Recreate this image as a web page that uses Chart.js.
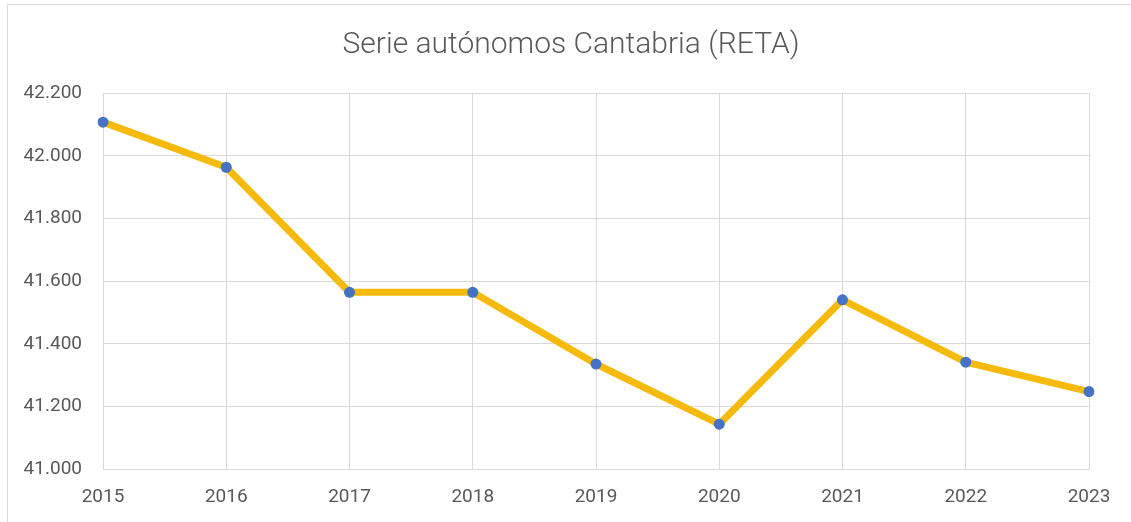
<!DOCTYPE html>
<html>
<head>
<meta charset="utf-8">
<script src="https://cdn.jsdelivr.net/npm/chart.js@4.4.1/dist/chart.umd.min.js"></script>
<style>
  html, body { margin: 0; padding: 0; background: #fff; }
  #wrap { position: relative; width: 1131px; height: 522px; }
</style>
</head>
<body>
<div id="wrap"><canvas id="c" width="1131" height="522"></canvas></div>
<script>
const titleText = 'Serie autónomos Cantabria (RETA)';
const years = ['2015', '2016', '2017', '2018', '2019', '2020', '2021', '2022', '2023'];
const autonomos = [42108, 41964, 41565, 41565, 41336, 41144, 41541, 41342, 41248];
const yTickValues = [41000, 41200, 41400, 41600, 41800, 42000, 42200];
const yTickLabels = ['41.000', '41.200', '41.400', '41.600', '41.800', '42.000', '42.200'];

const textColor = '#595959';
const gridColor = '#D9D9D9';
const fontFamily = 'Roboto, "Open Sans", "Liberation Sans", sans-serif';

const frame = {
  id: 'frame',
  beforeDraw(chart) {
    const ctx = chart.ctx;
    ctx.save();
    ctx.fillStyle = '#ffffff';
    ctx.fillRect(0, 0, chart.width, chart.height);
    ctx.strokeStyle = '#D9D9D9';
    ctx.lineWidth = 1;
    ctx.beginPath();
    ctx.moveTo(7.5, chart.height);
    ctx.lineTo(7.5, 4.5);
    ctx.lineTo(chart.width, 4.5);
    ctx.stroke();
    ctx.restore();
  }
};

new Chart(document.getElementById('c'), {
  type: 'line',
  data: {
    labels: years,
    datasets: [{
      label: 'Autónomos',
      data: autonomos,
      yAxisID: 'y',
      borderColor: '#F5BA0B',
      borderWidth: 7,
      borderJoinStyle: 'round',
      borderCapStyle: 'round',
      tension: 0,
      pointRadius: 5.5,
      pointBackgroundColor: '#4472C4',
      pointBorderWidth: 0,
      pointHoverRadius: 5.5,
      fill: false
    }]
  },
  options: {
    responsive: false,
    animation: false,
    devicePixelRatio: 1,
    layout: { padding: { left: 11, right: 0, top: 0, bottom: 0 } },
    plugins: {
      legend: { display: false },
      tooltip: { enabled: false },
      title: {
        display: true,
        text: titleText,
        color: textColor,
        font: { family: fontFamily, size: 30, weight: '300' },
        padding: { top: 27, bottom: 30.3 }
      }
    },
    scales: {
      x: {
        offset: false,
        grid: { color: gridColor, lineWidth: 1, drawTicks: false },
        border: { display: true, color: gridColor, width: 1 },
        ticks: {
          color: textColor,
          padding: 17,
          maxRotation: 0,
          font: { family: fontFamily, size: 19 }
        },
        afterFit(s) { s.height = 52.7; }
      },
      y: {
        position: 'left',
        min: 41000,
        max: 42200,
        afterBuildTicks(s) { s.ticks = yTickValues.map(v => ({ value: v })); },
        grid: { color: gridColor, lineWidth: 1, drawTicks: false },
        border: { display: false },
        ticks: {
          color: textColor,
          padding: 21,
          font: { family: fontFamily, size: 19 },
          callback: (v) => yTickLabels[yTickValues.indexOf(v)]
        },
        afterFit(s) { s.width = 92; }
      },
      yRightGap: {
        type: 'linear',
        position: 'right',
        display: true,
        grid: { display: false, drawTicks: false },
        border: { display: false },
        ticks: { display: false },
        afterFit(s) { s.width = 42; }
      }
    }
  },
  plugins: [frame]
});
</script>
</body>
</html>
